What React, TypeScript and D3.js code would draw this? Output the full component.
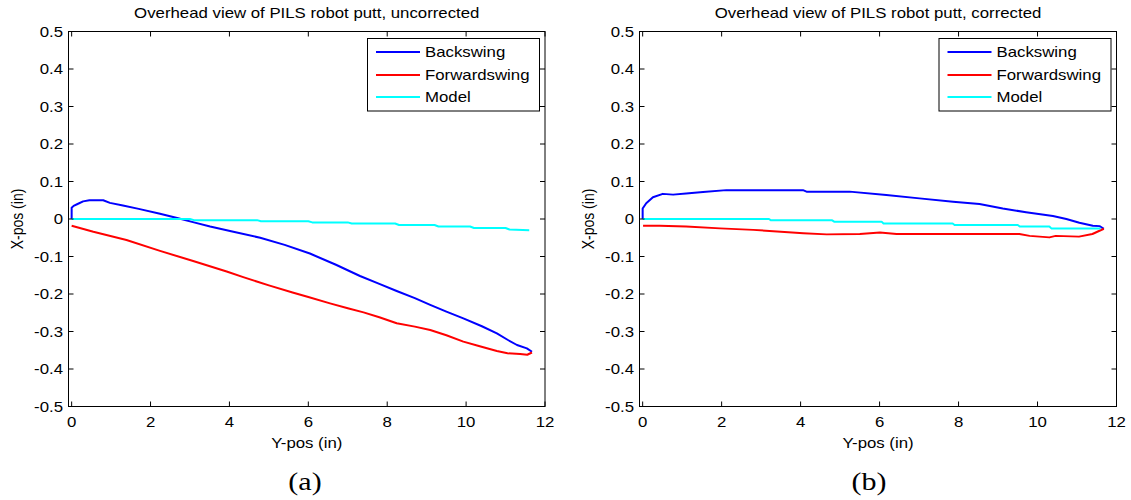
import React from "react";
import * as d3 from "d3";

// ---- data: uncorrected putt (inches) ----
const leftBackX = [0, 0, 0.05, 0.15, 0.29, 0.45, 0.6, 0.8, 0.97, 1.3, 1.7, 2.24, 2.7, 3.1, 3.51, 4.1, 4.78, 5.4, 6.04, 6.7, 7.31, 7.8, 8.24, 8.7, 9.09, 9.5, 9.93, 10.4, 10.78, 11.05, 11.29, 11.54, 11.67];
const leftBackY = [0, 0.03, 0.035, 0.04, 0.047, 0.05, 0.05, 0.05, 0.043, 0.036, 0.027, 0.014, 0.002, -0.009, -0.02, -0.034, -0.05, -0.069, -0.092, -0.122, -0.152, -0.173, -0.192, -0.211, -0.229, -0.247, -0.265, -0.286, -0.305, -0.322, -0.336, -0.345, -0.354];
const leftFwdX = [0, 0.55, 1.39, 2.24, 3.08, 3.93, 4.35, 5.0, 5.6, 6.0, 6.55, 7.0, 7.4, 7.8, 8.24, 8.7, 9.09, 9.5, 9.93, 10.3, 10.78, 11.05, 11.37, 11.55, 11.67];
const leftFwdY = [-0.018, -0.034, -0.056, -0.085, -0.112, -0.14, -0.155, -0.177, -0.196, -0.208, -0.225, -0.238, -0.249, -0.262, -0.278, -0.287, -0.296, -0.31, -0.327, -0.338, -0.352, -0.358, -0.36, -0.362, -0.356];
const leftModelX = [0, 3.0, 3.1, 4.7, 4.8, 6.0, 6.1, 7.0, 7.1, 8.2, 8.3, 9.2, 9.3, 10.1, 10.2, 11.0, 11.1, 11.6];
const leftModelY = [0, 0, -0.003, -0.003, -0.006, -0.006, -0.009, -0.009, -0.012, -0.012, -0.016, -0.016, -0.02, -0.02, -0.024, -0.024, -0.028, -0.03];

// ---- data: corrected putt (inches) ----
const rightBackX = [0, 0, 0.09, 0.26, 0.51, 0.77, 1.1, 1.53, 2.12, 3.0, 4.06, 4.15, 5.24, 6.17, 7.01, 7.86, 8.53, 9.12, 9.71, 10.39, 10.73, 11.06, 11.4, 11.57, 11.68];
const rightBackY = [0, 0.028, 0.042, 0.058, 0.067, 0.065, 0.068, 0.072, 0.077, 0.077, 0.077, 0.073, 0.073, 0.064, 0.055, 0.046, 0.04, 0.028, 0.018, 0.008, 0, -0.01, -0.018, -0.019, -0.026];
const rightFwdX = [0.01, 0.43, 1.1, 1.96, 2.8, 4.07, 4.66, 5.5, 6.01, 6.43, 7.86, 9.54, 9.8, 10.3, 10.46, 11.05, 11.39, 11.68];
const rightFwdY = [-0.018, -0.018, -0.02, -0.025, -0.029, -0.038, -0.041, -0.04, -0.036, -0.04, -0.04, -0.04, -0.045, -0.049, -0.045, -0.047, -0.04, -0.026];
const rightModelX = [0, 3.2, 3.25, 4.8, 4.85, 6.05, 6.1, 7.85, 7.9, 9.5, 9.55, 10.3, 10.35, 11.6];
const rightModelY = [0, 0, -0.0035, -0.0035, -0.007, -0.007, -0.012, -0.012, -0.016, -0.016, -0.02, -0.02, -0.025, -0.025];

// ---- axes ----
const xTicks = [0, 2, 4, 6, 8, 10, 12];
const yTicks = [-0.5, -0.4, -0.3, -0.2, -0.1, 0, 0.1, 0.2, 0.3, 0.4, 0.5];
const seriesNames = ["Backswing", "Forwardswing", "Model"];
const seriesColors = ["#0000ff", "#ff0000", "#00ffff"];

const FONT = "'Liberation Sans', Arial, Helvetica, sans-serif";
const SX = 1.2; // glyphs are drawn slightly wide

const zip = (xs: number[], ys: number[]) => xs.map((x, i) => [x, ys[i]] as [number, number]);

function Txt(props: {
  x: number; y: number; size?: number; anchor?: string; rotate?: boolean; family?: string; children: React.ReactNode;
}) {
  const { x, y, size = 14, anchor = "start", rotate = false, family = FONT } = props;
  return (
    <text
      transform={`translate(${x},${y}) scale(${SX},1)${rotate ? " rotate(-90)" : ""}`}
      textAnchor={anchor}
      fontFamily={family}
      fontSize={size}
      fill="#000"
    >
      {props.children}
    </text>
  );
}

function Panel(props: {
  left: number; right: number; title: string; tag: string; tagX: number;
  series: [number, number][][];
}) {
  const top = 31.5, bottom = 406.5;
  const { left, right } = props;
  const x = d3.scaleLinear().domain([-0.08, 12]).range([left, right]);
  const y = d3.scaleLinear().domain([-0.5, 0.5]).range([bottom, top]);
  const line = d3.line<[number, number]>().x(d => x(d[0])).y(d => y(d[1]));
  const cx = (left + right) / 2;
  const tick = 5;
  const fmt = (v: number) => (Math.abs(v) < 1e-9 ? "0" : v.toFixed(1));

  // legend geometry
  const lgL = right - 177.5, lgW = 172, lgT = 38.5, lgH = 72.5;
  const rowY = [13.5, 36.5, 58.5];

  return (
    <g>
      <Txt x={cx} y={18} anchor="middle">{props.title}</Txt>
      {/* data lines */}
      {props.series.map((pts, i) => (
        <path key={i} d={line(pts) || ""} fill="none" stroke={seriesColors[i]} strokeWidth={2} strokeLinejoin="round" />
      ))}
      {/* box */}
      <rect x={left} y={top} width={right - left} height={bottom - top} fill="none" stroke="#000" strokeWidth={1} />
      {/* x ticks */}
      {xTicks.map(t => (
        <g key={"x" + t}>
          <line x1={x(t)} x2={x(t)} y1={bottom} y2={bottom - tick} stroke="#000" />
          <line x1={x(t)} x2={x(t)} y1={top} y2={top + tick} stroke="#000" />
          <Txt x={x(t)} y={bottom + 20.5} anchor="middle">{String(t)}</Txt>
        </g>
      ))}
      {/* y ticks */}
      {yTicks.map(t => (
        <g key={"y" + t}>
          <line x1={left} x2={left + tick} y1={y(t)} y2={y(t)} stroke="#000" />
          <line x1={right} x2={right - tick} y1={y(t)} y2={y(t)} stroke="#000" />
          <Txt x={left - 5.5} y={y(t) + 5} anchor="end">{fmt(t)}</Txt>
        </g>
      ))}
      <Txt x={cx} y={448} anchor="middle">Y-pos (in)</Txt>
      <Txt x={left - 46} y={219} anchor="middle" rotate>X-pos (in)</Txt>
      {/* legend */}
      <rect x={lgL} y={lgT} width={lgW} height={lgH} fill="#fff" stroke="#000" strokeWidth={1} />
      {seriesNames.map((n, i) => (
        <g key={n}>
          <line x1={lgL + 8.5} x2={lgL + 52.5} y1={lgT + rowY[i]} y2={lgT + rowY[i]} stroke={seriesColors[i]} strokeWidth={2} />
          <Txt x={lgL + 57.5} y={lgT + rowY[i] + 5}>{n}</Txt>
        </g>
      ))}
      <Txt x={props.tagX} y={490} anchor="middle" size={25} family="'Liberation Serif', 'Times New Roman', serif">{props.tag}</Txt>
    </g>
  );
}

export default function App() {
  return (
    <div style={{ position: "absolute", left: 0, top: 0 }}>
      <svg width={1131} height={500} style={{ display: "block", background: "#fff" }}>
        <Panel
          left={68.5}
          right={545}
          title="Overhead view of PILS robot putt, uncorrected"
          tag="(a)"
          tagX={305}
          series={[zip(leftBackX, leftBackY), zip(leftFwdX, leftFwdY), zip(leftModelX, leftModelY)]}
        />
        <Panel
          left={639.5}
          right={1116.5}
          title="Overhead view of PILS robot putt, corrected"
          tag="(b)"
          tagX={869}
          series={[zip(rightBackX, rightBackY), zip(rightFwdX, rightFwdY), zip(rightModelX, rightModelY)]}
        />
      </svg>
    </div>
  );
}
